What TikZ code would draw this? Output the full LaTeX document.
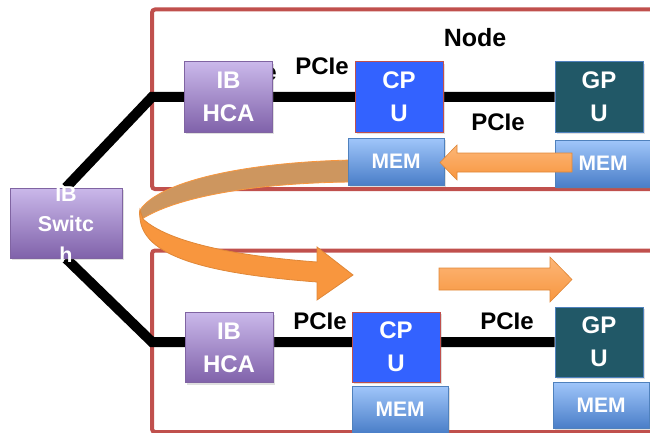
\documentclass[tikz,border=0pt]{standalone}
\usepackage{fontspec}
\setmainfont{Liberation Sans}
\usetikzlibrary{shadows}
\definecolor{framered}{RGB}{192,80,77}
\definecolor{ibtop}{RGB}{202,184,234}
\definecolor{ibbot}{RGB}{128,98,170}
\definecolor{ibedge}{RGB}{128,100,162}
\definecolor{cpublue}{RGB}{51,98,255}
\definecolor{gputeal}{RGB}{33,88,103}
\definecolor{gpuedge}{RGB}{79,129,189}
\definecolor{memtop}{RGB}{160,198,250}
\definecolor{membot}{RGB}{74,126,200}
\definecolor{flow}{RGB}{248,150,62}
\definecolor{flowlite}{RGB}{252,182,120}
\definecolor{flowback}{RGB}{205,150,95}
\pgfdeclarelayer{frame}
\pgfdeclarelayer{wires}
\pgfsetlayers{frame,wires,main}

\begin{document}
\begin{tikzpicture}[
  x=1pt, y=-1pt,
  bigfont/.style={font=\fontsize{24}{33}\selectfont\bfseries},
  hwbox/.style={bigfont, text=white, align=center, inner sep=0pt, minimum width=88pt, minimum height=70pt, line width=1pt, drop shadow={opacity=0.25, shadow xshift=1.5pt, shadow yshift=-2pt}},
  ibbox/.style={hwbox, draw=ibedge, top color=ibtop, bottom color=ibbot},
  cpubox/.style={hwbox, draw=framered, fill=cpublue},
  gpubox/.style={hwbox, draw=gpuedge, fill=gputeal},
  membox/.style={hwbox, font=\fontsize{21}{24}\selectfont\bfseries, draw=gpuedge, top color=memtop, bottom color=membot, minimum width=96pt, minimum height=47pt},
  lbl/.style={bigfont, inner sep=0pt},
  frame/.style={draw=framered, line width=4pt, rounded corners=3pt},
  link/.style={line width=10pt},
  flowarrow/.style={draw=flow!90!black, line width=0.6pt, top color=flowlite, bottom color=flow}
]
  \useasboundingbox (0,0) rectangle (650,433);

  \node[lbl] (hidden) at (250,72) {PCIe};

  \node[ibbox] (thca) at (228.5,97) {IB\\HCA};
  \node[cpubox] (tcpu) at (399,97) {CP\\U};
  \node[gpubox] (tgpu) at (599,97) {GP\\U};

  \node[ibbox] (bhca) at (229,347.5) {IB\\HCA};
  \node[cpubox] (bcpu) at (396,347) {CP\\U};
  \node[gpubox] (bgpu) at (599,342) {GP\\U};

  \node[ibbox, minimum width=112pt] (sw) at (66,223) {};
  \node[lbl, text=white, align=center, font=\fontsize{21.5}{30.5}\selectfont\bfseries] (swtext) at (66,224.5) {IB\\Switc\\h};

  \node[lbl, font=\fontsize{25}{30}\selectfont\bfseries] (nodelbl) at (475,37.5) {Node};
  \node[lbl] (tpcie1) at (322,66) {PCIe};
  \node[lbl] (tpcie2) at (498,122) {PCIe};
  \node[lbl] (bpcie1) at (320,321.5) {PCIe};
  \node[lbl] (bpcie2) at (507,321) {PCIe};

  \coordinate (tknee) at (152,97);
  \coordinate (bknee) at (152,342);

  \begin{pgfonlayer}{frame}
    \draw[frame] (152,9.5) rectangle (670,189);
    \draw[frame] (152,250.5) rectangle (670,432);
  \end{pgfonlayer}

  \begin{pgfonlayer}{wires}
    \draw[link] (sw.north) -- (tknee) -- (tknee -| tgpu.west);
    \draw[link] (sw.south) -- (bknee) -- (bknee -| bgpu.west);
  \end{pgfonlayer}

  % copy round the back of the node and into the other one
  \filldraw[fill=flowback, draw=flow, line width=0.8pt]
    (352,160) .. controls (250,162) and (160,180) .. (140,210)
    .. controls (139,214) .. (142,219)
    .. controls (175,198) and (250,183) .. (352,182) -- cycle;
  \filldraw[fill=flow, draw=flow!90!black, line width=0.8pt]
    (140,210) .. controls (136,250) and (185,272) .. (317,282)
    -- (317,300) -- (353,275) -- (317,247) -- (317,262)
    .. controls (235,256) and (168,242) .. (143,219) -- cycle;

  \node[membox] (tmemc) at (396,161.5) {MEM};
  \node[membox] (tmemg) at (603,163.5) {MEM};
  \node[membox] (bmemc) at (400,409.5) {MEM};
  \node[membox, minimum height=46pt] (bmemg) at (601,405) {MEM};

  \draw[flowarrow] (572,153) -- (457,153) -- (457,145) -- (440,162.5)
    -- (457,180) -- (457,172) -- (572,172) -- cycle;
  \draw[flowarrow] (439,268) -- (550,268) -- (550,257) -- (572,279.5)
    -- (550,302) -- (550,290) -- (439,290) -- cycle;
\end{tikzpicture}
\end{document}
